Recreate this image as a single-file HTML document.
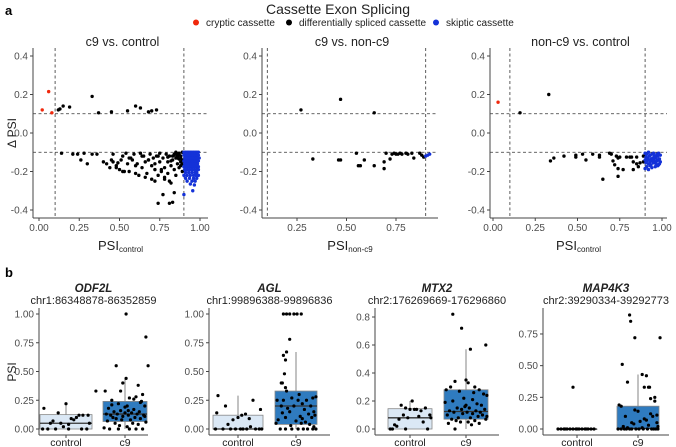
<!DOCTYPE html>
<html><head><meta charset="utf-8">
<style>
body{margin:0;background:#fff;}
svg{display:block;font-family:"Liberation Sans",Arial,sans-serif;}
</style></head>
<body>
<svg id="fig" width="676" height="447" viewBox="0 0 676 447">
<text x="5" y="15" font-size="13" font-weight="bold">a</text>
<text x="338" y="14" font-size="14" text-anchor="middle" fill="#222">Cassette Exon Splicing</text>
<g font-size="10" fill="#222">
<g><circle cx="196" cy="22.5" r="3" fill="#f0280c"/><text x="206" y="26">cryptic cassette</text></g>
<g><circle cx="289" cy="22.5" r="3" fill="#000"/><text x="299" y="26">differentially spliced cassette</text></g>
<g><circle cx="436" cy="22.5" r="3" fill="#1432d8"/><text x="446" y="26">skiptic cassette</text></g>
</g>
<text x="5" y="277" font-size="13" font-weight="bold">b</text>
<text transform="translate(16,133) rotate(-90)" font-size="12" text-anchor="middle" fill="#222">Δ PSI</text>
<text transform="translate(16,372) rotate(-90)" font-size="12" text-anchor="middle" fill="#222">PSI</text>
<g id="plots"></g>
</svg>
<script>
// ---------- Panel a data ----------
const p1RedX=[0.02,0.06,0.08];
const p1RedY=[0.12,0.215,0.105];
const p1BlackX=[0.12,0.13,0.15,0.19,0.33,0.37,0.45,0.55,0.60,0.63,0.68,0.70,0.73,
0.14,0.21,0.24,0.26,0.28,0.30,0.33,0.36,0.40,0.42,0.44,0.45,0.46,0.48,0.49,0.50,0.51,0.52,0.53,0.54,0.55,0.56,0.57,0.58,0.59,0.60,0.61,0.62,0.63,0.64,0.65,0.66,0.66,0.67,0.68,0.69,0.70,0.70,0.71,0.72,0.72,0.73,0.74,0.74,0.75,0.75,0.76,0.77,0.77,0.78,0.78,0.79,0.80,0.80,0.81,0.81,0.82,0.82,0.83,0.83,0.84,0.84,0.85,0.85,0.86,0.86,0.87,0.87,0.88,0.88,0.89,0.89,0.89,0.86,0.87,0.88,0.85,0.84,0.83,0.80,0.76,0.72,0.68,0.64,0.60,0.56,0.52,0.48,0.46,0.74,0.78,0.81,0.84,0.82,0.86,0.88,0.87,0.89,0.85];
const p1BlackY=[0.12,0.125,0.14,0.135,0.19,0.105,0.11,0.115,0.14,0.13,0.11,0.115,0.12,
-0.105,-0.11,-0.11,-0.14,-0.105,-0.16,-0.11,-0.11,-0.15,-0.16,-0.18,-0.14,-0.11,-0.18,-0.155,-0.19,-0.14,-0.12,-0.20,-0.105,-0.16,-0.20,-0.13,-0.14,-0.11,-0.17,-0.16,-0.22,-0.105,-0.18,-0.12,-0.15,-0.23,-0.21,-0.14,-0.11,-0.24,-0.17,-0.13,-0.19,-0.25,-0.12,-0.22,-0.365,-0.15,-0.105,-0.20,-0.13,-0.32,-0.18,-0.24,-0.11,-0.15,-0.21,-0.365,-0.12,-0.17,-0.26,-0.36,-0.14,-0.19,-0.31,-0.105,-0.22,-0.13,-0.16,-0.11,-0.18,-0.12,-0.15,-0.10,-0.14,-0.20,-0.12,-0.105,-0.17,-0.13,-0.115,-0.12,-0.125,-0.19,-0.16,-0.14,-0.12,-0.21,-0.13,-0.20,-0.17,-0.15,-0.12,-0.23,-0.25,-0.11,-0.145,-0.11,-0.13,-0.135,-0.16,-0.10,-0.115,-0.15];
const p1BlueX=[0.90,0.91,0.92,0.93,0.94,0.95,0.96,0.97,0.98,0.99,0.90,0.91,0.92,0.93,0.94,0.95,0.96,0.97,0.98,0.99,0.905,0.915,0.925,0.935,0.945,0.955,0.965,0.975,0.985,0.995,0.90,0.91,0.92,0.93,0.94,0.95,0.96,0.97,0.98,0.99,0.905,0.915,0.925,0.935,0.945,0.955,0.965,0.975,0.985,0.90,0.91,0.92,0.93,0.94,0.95,0.96,0.97,0.98,0.99,0.905,0.92,0.935,0.95,0.965,0.98,0.99,0.91,0.93,0.95,0.97,0.98,0.90,0.92,0.94,0.96,0.975,0.99,0.91,0.935,0.96,0.98,0.92,0.95,0.97,0.94,0.965,0.955,0.90];
const p1BlueY=[-0.10,-0.10,-0.10,-0.10,-0.10,-0.10,-0.10,-0.10,-0.10,-0.10,-0.115,-0.115,-0.115,-0.115,-0.115,-0.115,-0.115,-0.115,-0.115,-0.115,-0.13,-0.13,-0.13,-0.13,-0.13,-0.13,-0.13,-0.13,-0.13,-0.13,-0.145,-0.145,-0.145,-0.145,-0.145,-0.145,-0.145,-0.145,-0.145,-0.145,-0.16,-0.16,-0.16,-0.16,-0.16,-0.16,-0.16,-0.16,-0.16,-0.175,-0.175,-0.175,-0.175,-0.175,-0.175,-0.175,-0.175,-0.175,-0.175,-0.19,-0.19,-0.19,-0.19,-0.19,-0.19,-0.19,-0.205,-0.205,-0.205,-0.205,-0.205,-0.22,-0.22,-0.22,-0.22,-0.22,-0.22,-0.235,-0.235,-0.235,-0.235,-0.25,-0.25,-0.25,-0.265,-0.27,-0.30,-0.32];
const p2BlackX=[0.27,0.47,0.64,0.33,0.46,0.47,0.55,0.56,0.57,0.59,0.64,0.69,0.69,0.70,0.72,0.73,0.74,0.75,0.76,0.77,0.78,0.80,0.81,0.83,0.84,0.87,0.88,0.89];
const p2BlackY=[0.12,0.175,0.105,-0.135,-0.14,-0.14,-0.105,-0.17,-0.17,-0.14,-0.17,-0.15,-0.185,-0.105,-0.135,-0.11,-0.105,-0.11,-0.11,-0.105,-0.11,-0.105,-0.11,-0.105,-0.13,-0.105,-0.115,-0.125];
const p2BlueX=[0.90,0.91,0.92];
const p2BlueY=[-0.12,-0.115,-0.11];
const p3RedX=[0.03];
const p3RedY=[0.16];
const p3BlackX=[0.16,0.33,0.34,0.36,0.42,0.49,0.49,0.53,0.55,0.59,0.63,0.63,0.65,0.69,0.70,0.71,0.72,0.73,0.74,0.74,0.74,0.75,0.77,0.79,0.81,0.82,0.83,0.83,0.85,0.85,0.86,0.87,0.89,0.89];
const p3BlackY=[0.105,0.2,-0.145,-0.13,-0.12,-0.115,-0.125,-0.11,-0.14,-0.11,-0.115,-0.125,-0.24,-0.105,-0.11,-0.145,-0.165,-0.12,-0.13,-0.185,-0.225,-0.125,-0.19,-0.125,-0.125,-0.125,-0.15,-0.19,-0.125,-0.16,-0.175,-0.155,-0.15,-0.12];
const p3BlueX=[0.90,0.91,0.92,0.93,0.94,0.95,0.96,0.97,0.98,0.99,0.905,0.915,0.925,0.935,0.945,0.955,0.965,0.975,0.985,0.90,0.91,0.92,0.93,0.94,0.95,0.96,0.97,0.98,0.99,0.905,0.92,0.935,0.95,0.965,0.98,0.91,0.93,0.96,0.975,0.90,0.94,0.97,0.955,0.985,0.92];
const p3BlueY=[-0.105,-0.11,-0.10,-0.115,-0.11,-0.105,-0.12,-0.11,-0.105,-0.115,-0.125,-0.13,-0.12,-0.135,-0.13,-0.125,-0.13,-0.12,-0.135,-0.14,-0.145,-0.14,-0.15,-0.145,-0.14,-0.15,-0.145,-0.14,-0.15,-0.155,-0.16,-0.165,-0.155,-0.16,-0.165,-0.175,-0.17,-0.175,-0.17,-0.185,-0.18,-0.14,-0.12,-0.16,-0.19];
const aYTicks=[0.4,0.2,0.0,-0.2,-0.4];
const aYTickLabels=["0.4","0.2","0.0","-0.2","-0.4"];
// ---------- Panel b data ----------
const genes=["ODF2L","AGL","MTX2","MAP4K3"];
const coords=["chr1:86348878-86352859","chr1:99896388-99896836","chr2:176269669-176296860","chr2:39290334-39292773"];
const groups=["control","c9"];
// box stats [lowerWhisker, q1, median, q3, upperWhisker]
const ctrlStats=[[0,0,0.05,0.125,0.22],[0,0,0,0.12,0.29],[0,0,0.08,0.145,0.2],[0,0,0,0,0]];
const c9Stats=[[0,0.065,0.13,0.24,0.44],[0,0.04,0.2,0.33,0.67],[0,0.07,0.125,0.28,0.57],[0,0,0.005,0.18,0.43]];
const bTicks=[[0,0.25,0.5,0.75,1],[0,0.25,0.5,0.75,1],[0,0.2,0.4,0.6,0.8],[0,0.25,0.5,0.75]];
const bTickLabels=[["0.00","0.25","0.50","0.75","1.00"],["0.00","0.25","0.50","0.75","1.00"],["0.0","0.2","0.4","0.6","0.8"],["0.00","0.25","0.50","0.75"]];
const ctrlPts=[
[0.18,0.14,0.22,0.05,0.05,0,0,0.09,0.12,0.12,0.1,0,0,0.02,0.05,0.33,0,0.07,0.08,0,0.04,0.12],
[0.29,0.2,0.14,0.25,0.17,0,0,0,0.08,0.1,0,0.13,0.02,0,0,0.09,0,0.04,0,0.12,0,0],
[0.2,0.17,0.15,0.14,0.14,0.13,0.1,0.08,0.08,0.07,0.03,0,0,0,0,0.15,0.14,0.09,0.1,0.05,0.02],
[0.33,0,0,0,0,0,0,0,0,0,0,0,0,0,0,0,0]];
const ctrlJit=[
[-0.85,-0.3,0.0,-0.6,-0.2,-0.9,-0.4,0.2,0.5,0.65,0.4,0.1,0.8,-0.1,0.9,1.15,0.6,-0.5,0.3,-0.7,0.1,0.85],
[-0.8,-0.5,-0.85,0.6,0.9,-0.9,-0.6,-0.3,-0.2,0.0,0.2,0.3,0.5,0.7,0.85,0.45,-0.1,-0.4,0.1,0.15,0.35,0.95],
[0.1,-0.4,-0.2,0.0,0.3,0.5,0.9,0.95,-0.1,-0.5,-0.7,-0.9,-0.8,-0.2,0.8,0.7,0.2,0.4,-0.3,0.6,-0.6],
[-0.2,-0.95,-0.8,-0.65,-0.5,-0.35,-0.2,-0.05,0.1,0.25,0.4,0.55,0.7,0.85,-0.6,0.0,0.45]];
const c9Pts=[
[1.0,0.8,0.55,0.55,0.44,0.4,0.38,0.33,0.3,0.28,0.27,0.25,0.24,0.22,0.2,0.2,0.18,0.17,0.16,0.15,0.15,0.14,0.14,0.13,0.13,0.13,0.12,0.12,0.12,0.11,0.1,0.1,0.09,0.08,0.08,0.07,0.06,0.05,0.05,0.04,0.03,0.02,0,0,0,0,0,0.01,0.19,0.21,0.26,0.11,0.09,0.16,0.33,0.23],
[1,1,1,1,1,1,0.78,0.67,0.64,0.6,0.48,0.4,0.4,0.36,0.33,0.28,0.27,0.27,0.25,0.25,0.25,0.25,0.22,0.2,0.2,0.2,0.17,0.15,0.15,0.13,0.12,0.11,0.1,0.1,0.08,0.07,0.06,0.05,0.05,0.04,0.03,0.02,0,0,0,0,0,0,0,0,0.3,0.18,0.09,0.14],
[0.82,0.72,0.6,0.57,0.35,0.34,0.33,0.3,0.3,0.28,0.28,0.27,0.25,0.24,0.22,0.21,0.2,0.19,0.18,0.17,0.15,0.15,0.14,0.14,0.13,0.13,0.12,0.12,0.12,0.11,0.11,0.1,0.1,0.09,0.08,0.08,0.07,0.07,0.06,0.06,0.05,0.05,0.04,0.04,0.03,0,0.26,0.16,0.09,0.17],
[0.9,0.85,0.72,0.72,0.51,0.43,0.42,0.37,0.33,0.33,0.33,0.24,0.22,0.19,0.18,0.14,0.12,0.1,0.1,0.08,0.06,0.05,0.05,0.03,0.02,0.02,0.01,0.01,0,0,0,0,0,0,0,0,0,0,0,0,0,0,0.04,0.11,0.07,0.15,0.25]];
const c9Jit=[
[0.05,0.95,-0.4,1.05,0.05,-0.1,0.6,-0.9,0.8,0.5,0.2,-0.6,0.75,-0.3,0.1,0.9,-0.75,0.4,-0.2,0.65,-0.5,0.0,0.3,-0.85,-0.35,0.55,0.15,0.85,-0.65,-0.1,0.45,-0.55,0.7,0.25,-0.15,-0.8,0.95,0.35,-0.45,0.6,-0.25,0.1,-0.7,-0.3,0.2,0.5,0.8,-0.95,0.0,-0.6,0.4,0.9,-0.4,0.15,-0.2,0.7],
[-0.6,-0.45,-0.3,-0.1,0.05,0.25,-0.3,-0.45,-0.6,-0.5,-0.55,-0.7,-0.65,-0.5,-0.45,0.95,0.8,-0.2,-0.9,-0.6,0.1,0.5,0.3,-0.7,-0.1,0.7,0.4,0.85,-0.3,0.6,0.9,0.2,-0.5,0.75,-0.85,0.0,0.45,-0.95,0.25,0.65,-0.25,0.85,-0.75,-0.5,-0.2,0.1,0.35,0.55,0.8,0.95,0.15,-0.4,0.3,-0.65],
[-0.6,-0.2,0.9,0.2,0.0,-0.5,0.1,0.4,-0.7,0.6,-0.9,-0.3,0.8,0.95,-0.1,0.3,-0.6,-0.95,0.5,0.7,-0.4,0.15,-0.2,0.85,-0.75,0.45,0.05,0.65,-0.55,-0.15,0.3,0.75,-0.85,0.55,-0.35,0.2,-0.65,0.9,-0.45,0.4,-0.25,0.1,0.6,-0.8,0.25,-0.5,0.35,-0.05,0.95,0.0],
[-0.4,-0.35,-0.15,1.05,-0.75,0.2,0.4,-0.5,0.3,0.5,0.55,0.6,0.8,-0.9,-0.8,0.0,0.6,0.7,-0.6,0.3,0.1,-0.3,0.9,0.5,0.95,-0.7,-0.5,0.2,-0.95,-0.8,-0.65,-0.55,-0.4,-0.3,-0.1,0.05,0.25,0.45,0.65,0.75,0.85,0.95,-0.2,0.9,0.4,-0.15,0.8]];

// ---------- drawing ----------
const NS="http://www.w3.org/2000/svg";
const root=document.getElementById('plots');
function mk(tag,attrs,parent){const e=document.createElementNS(NS,tag);for(const k in attrs)e.setAttribute(k,attrs[k]);(parent||root).appendChild(e);return e;}
function txt(s,attrs,parent){const e=mk('text',attrs,parent);e.textContent=s;return e;}

const AXC="#444", TICKC="#4d4d4d";
const aY=v=>133-v*192.5;
const aPanels=[
 {name:"c9-vs-control",title:"c9 vs. control",ax:33,ar:208,x0:39,x1:200,lo:0,hi:1,ticks:[0,0.25,0.5,0.75,1],tl:["0.00","0.25","0.50","0.75","1.00"],xt:"PSI",sub:"control",
  series:[[p1BlackX,p1BlackY,"#000"],[p1BlueX,p1BlueY,"#1432d8"],[p1RedX,p1RedY,"#f0280c"]]},
 {name:"c9-vs-non-c9",title:"c9 vs. non-c9",ax:262,ar:438,x0:297,x1:396,lo:0.25,hi:0.75,ticks:[0.25,0.5,0.75],tl:["0.25","0.50","0.75"],xt:"PSI",sub:"non-c9",
  series:[[p2BlackX,p2BlackY,"#000"],[p2BlueX,p2BlueY,"#1432d8"]]},
 {name:"non-c9-vs-control",title:"non-c9 vs. control",ax:490,ar:667,x0:493,x1:662,lo:0,hi:1,ticks:[0,0.25,0.5,0.75,1],tl:["0.00","0.25","0.50","0.75","1.00"],xt:"PSI",sub:"control",
  series:[[p3BlackX,p3BlackY,"#000"],[p3BlueX,p3BlueY,"#1432d8"],[p3RedX,p3RedY,"#f0280c"]]}
];
aPanels.forEach(p=>{
  const g=mk('g',{});
  
  
  const sx=v=>p.x0+(v-p.lo)/(p.hi-p.lo)*(p.x1-p.x0);
  const t=txt(p.title,{x:(p.ax+p.ar)/2+2,y:46,'font-size':12.5,'text-anchor':'middle',fill:'#222'},g);
  
  
  // reference lines
  [0.1,0.9].forEach(v=>{const l=mk('line',{x1:sx(v),x2:sx(v),y1:48,y2:218,stroke:'#333','stroke-width':0.8,'stroke-dasharray':'3,2.5'},g);
    
    });
  [0.1,-0.1].forEach(v=>{const l=mk('line',{x1:p.ax,x2:p.ar,y1:aY(v),y2:aY(v),stroke:'#333','stroke-width':0.8,'stroke-dasharray':'3,2.5'},g);
    
    });
  // axes
  const ya=mk('line',{x1:p.ax,x2:p.ax,y1:48,y2:218,stroke:AXC,'stroke-width':1},g);
  
  
  const xa=mk('line',{x1:p.ax,x2:p.ar,y1:218,y2:218,stroke:AXC,'stroke-width':1},g);
  
  
  aYTicks.forEach((v,i)=>{mk('line',{x1:p.ax-3,x2:p.ax,y1:aY(v),y2:aY(v),stroke:AXC},g);
    const l=txt(aYTickLabels[i],{x:p.ax-5,y:aY(v)+3.5,'font-size':10,'text-anchor':'end',fill:TICKC},g);
    
    });
  p.ticks.forEach((v,i)=>{mk('line',{x1:sx(v),x2:sx(v),y1:218,y2:221,stroke:AXC},g);
    const l=txt(p.tl[i],{x:sx(v),y:231,'font-size':10,'text-anchor':'middle',fill:TICKC},g);
    
    });
  const xt=mk('text',{x:(p.ax+p.ar)/2,y:250,'font-size':13,'text-anchor':'middle',fill:'#222'},g);
  
  
  xt.textContent=p.xt;
  const ts=mk('tspan',{'font-size':8,dy:2},xt);ts.textContent=p.sub;
  p.series.forEach(s=>{
    s[0].forEach((xv,i)=>{const c=mk('circle',{cx:sx(xv),cy:aY(s[1][i]),r:1.7,fill:s[2]},g);
      
      });
  });
});

const bPanels=[
 {ax:39,ar:148,cx:[66,125],hw:[26,22],y0:429,ppu:115},
 {ax:209,ar:330,cx:[238,296],hw:[25,21],y0:429,ppu:115},
 {ax:375,ar:499,cx:[410,466],hw:[22,22],y0:429,ppu:140},
 {ax:543,ar:669,cx:[577,638],hw:[20,21],y0:429,ppu:126.7}
];
bPanels.forEach((p,k)=>{
  const g=mk('g',{});
  
  
  const sy=v=>p.y0-v*p.ppu;
  const mid=(p.ax+p.ar)/2;
  const gn=txt(genes[k],{x:mid,y:292,'font-size':11.5,'font-weight':'bold','font-style':'italic','text-anchor':'middle',fill:'#222'},g);
  
  
  const cn=txt(coords[k],{x:mid,y:304,'font-size':11,'text-anchor':'middle',fill:'#222'},g);
  
  
  const ya=mk('line',{x1:p.ax,x2:p.ax,y1:308,y2:435,stroke:AXC},g);
  
  
  const xa=mk('line',{x1:p.ax,x2:p.ar,y1:435,y2:435,stroke:AXC},g);
  
  
  bTicks[k].forEach((v,i)=>{mk('line',{x1:p.ax-3,x2:p.ax,y1:sy(v),y2:sy(v),stroke:AXC},g);
    const l=txt(bTickLabels[k][i],{x:p.ax-5,y:sy(v)+3.5,'font-size':10,'text-anchor':'end',fill:TICKC},g);
    
    });
  const stats=[ctrlStats[k],c9Stats[k]], pts=[ctrlPts[k],c9Pts[k]], jit=[ctrlJit[k],c9Jit[k]];
  const fills=["#dbe8f5","#2f7bbf"];
  groups.forEach((gname,j)=>{
    const cx=p.cx[j], hw=p.hw[j], s=stats[j];
    mk('line',{x1:cx,x2:cx,y1:sy(s[0]),y2:sy(s[4]),stroke:'#666','stroke-width':0.8},g);
    const b=mk('rect',{x:cx-hw,y:sy(s[3]),width:2*hw,height:Math.max(0.5,sy(s[1])-sy(s[3])),fill:fills[j],stroke:'#888','stroke-width':0.8},g);
    
    
    mk('line',{x1:cx-hw,x2:cx+hw,y1:sy(s[2]),y2:sy(s[2]),stroke:'#333','stroke-width':1.3},g);
    mk('line',{x1:cx,x2:cx,y1:435,y2:438,stroke:AXC},g);
    const l=txt(gname,{x:cx,y:446,'font-size':10.5,'text-anchor':'middle',fill:'#222'},g);
    
    
    pts[j].forEach((v,i)=>{const c=mk('circle',{cx:cx+jit[j][i]*hw,cy:sy(v),r:1.6,fill:'#000'},g);
      
      });
  });
});
</script>
</body></html>
